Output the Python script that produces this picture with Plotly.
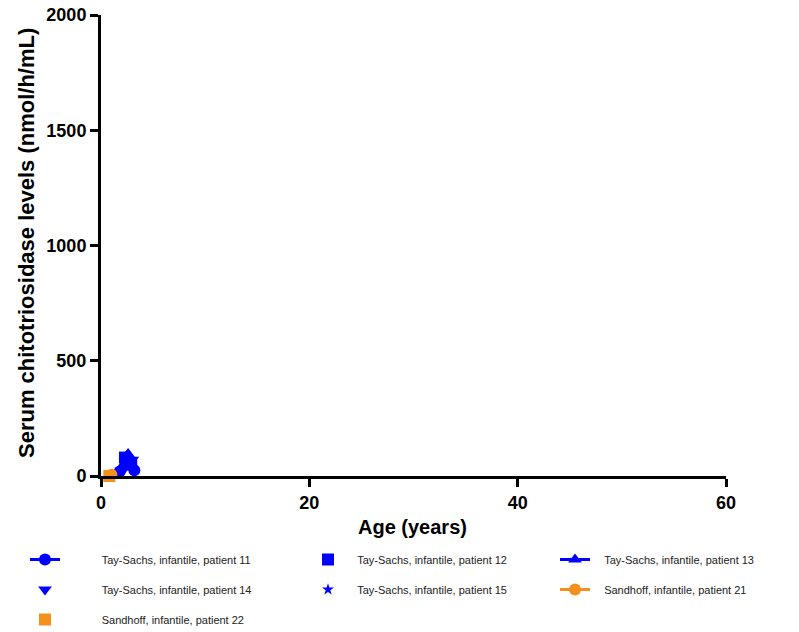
import plotly.graph_objects as go

# Serum chitotriosidase by age, per patient
p11_age = [1.8, 2.5, 3.2]
p11_val = [20, 60, 25]
p12_age = [2.3, 2.9]
p12_val = [80, 50]
p13_age = [2.0, 2.6]
p13_val = [40, 95]
p14_age = [2.2, 3.0]
p14_val = [30, 70]
p15_age = [2.7]
p15_val = [55]
p21_age = [1.0]
p21_val = [5]
p22_age = [0.8]
p22_val = [0]

x_ticks = [0, 20, 40, 60]
y_ticks = [0, 500, 1000, 1500, 2000]

BLUE = "#0000FF"
ORANGE = "#F5901E"

# name, ages, values, symbol, colour, joined by a line, legend column, text indent
series = [
    ("Tay-Sachs, infantile, patient 11", p11_age, p11_val, "circle", BLUE, True, "legend", 12),
    ("Tay-Sachs, infantile, patient 14", p14_age, p14_val, "triangle-down", BLUE, False, "legend", 12),
    ("Sandhoff, infantile, patient 22", p22_age, p22_val, "square", ORANGE, False, "legend", 12),
    ("Tay-Sachs, infantile, patient 12", p12_age, p12_val, "square", BLUE, False, "legend2", 3),
    ("Tay-Sachs, infantile, patient 15", p15_age, p15_val, "star", BLUE, False, "legend2", 3),
    ("Tay-Sachs, infantile, patient 13", p13_age, p13_val, "triangle-up", BLUE, True, "legend3", 3),
    ("Sandhoff, infantile, patient 21", p21_age, p21_val, "circle", ORANGE, True, "legend3", 3),
]

fig = go.Figure()
for i, (name, xs, ys, sym, col, lined, leg, indent) in enumerate(series):
    size = 9 if sym == "star" else 12
    fig.add_trace(go.Scatter(
        x=xs, y=ys, name="\u00a0" * indent + name,
        mode="lines+markers" if lined else "markers",
        marker=dict(symbol=sym, color=col, size=size, line=dict(width=0)),
        line=dict(color=col, width=3),
        legend=leg, legendgroup=f"g{i}",
        cliponaxis=False,
    ))

axis_font = dict(family="Liberation Sans", size=18, color="black", weight="bold")
title_font = dict(family="Liberation Sans", size=20, color="black", weight="bold")
legend_common = dict(
    orientation="v", xanchor="left", yanchor="top",
    font=dict(family="Liberation Sans", size=11, color="#222"),
    bgcolor="rgba(0,0,0,0)", tracegroupgap=11, itemwidth=30,
    xref="container", yref="container",
)

fig.update_layout(
    width=799, height=632,
    margin=dict(l=101, r=73, t=15, b=156, autoexpand=False),
    paper_bgcolor="white", plot_bgcolor="white",
    xaxis=dict(
        range=[0, 60], tickvals=x_ticks, showgrid=False, zeroline=False,
        showline=True, linecolor="black", linewidth=3,
        ticks="outside", ticklen=8, tickwidth=3, tickcolor="black",
        tickfont=axis_font,
    ),
    yaxis=dict(
        range=[0, 2000], tickvals=y_ticks, showgrid=False, zeroline=False,
        showline=True, linecolor="black", linewidth=3,
        ticks="outside", ticklen=8, tickwidth=3, tickcolor="black",
        tickfont=axis_font,
    ),
    legend=dict(x=25 / 799, y=1 - 545 / 632, **legend_common),
    legend2=dict(x=308 / 799, y=1 - 545 / 632, **legend_common),
    legend3=dict(x=555 / 799, y=1 - 545 / 632, **legend_common),
    annotations=[
        dict(text="Age (years)", xref="paper", yref="paper", x=0.4976, y=-0.1106,
             xanchor="center", yanchor="middle", showarrow=False, font=title_font),
        dict(text="Serum chitotriosidase levels (nmol/h/mL)", xref="paper", yref="paper",
             x=-0.12, y=0.5054, xanchor="center", yanchor="middle", textangle=-90,
             showarrow=False, font=dict(family="Liberation Sans", size=22, color="black", weight="bold")),
    ],
)

fig.write_html("out.html")
